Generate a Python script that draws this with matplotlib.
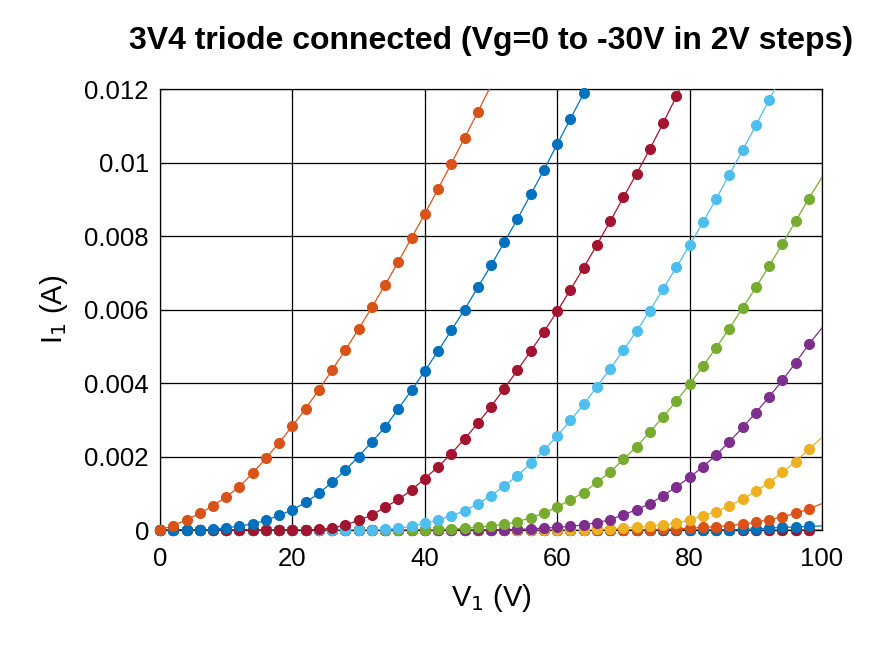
import numpy as np
import matplotlib
matplotlib.use("Agg")
import matplotlib.pyplot as plt

plt.rcParams['font.family'] = ['Liberation Sans', 'DejaVu Sans']

# plate voltage steps (V) and anode current (A), one list per grid voltage
V = np.arange(0, 102, 2)
grid_volts = list(range(0, -32, -2))

i_0 = [0, 0.00012, 0.00028, 0.00045, 0.00066, 0.0009, 0.00118, 0.00155, 0.00195,
       0.00238, 0.00283, 0.0033, 0.00382, 0.00435, 0.0049, 0.00547, 0.00606,
       0.00667, 0.0073, 0.00795, 0.0086, 0.00928, 0.00997, 0.01067, 0.01137, 0.0121]
i_2 = [0, 0, 0, 0, 0.00002, 0.00006, 0.0001, 0.00017, 0.00026, 0.0004, 0.00055,
       0.00075, 0.001, 0.0013, 0.00163, 0.002, 0.0024, 0.0028, 0.0033, 0.0038,
       0.00433, 0.00487, 0.00543, 0.006, 0.0066, 0.0072, 0.00783, 0.00847,
       0.00913, 0.0098, 0.0105, 0.01119, 0.01188, 0.0126]
i_4 = [0] * 12 + [0.00002, 0.00005, 0.00014, 0.00026, 0.00041, 0.00062, 0.00083,
       0.00109, 0.0014, 0.00172, 0.00208, 0.00248, 0.0029, 0.00336, 0.00385,
       0.00435, 0.00487, 0.0054, 0.00595, 0.00654, 0.00714, 0.00776, 0.0084,
       0.00905, 0.0097, 0.01037, 0.01107, 0.0118, 0.0125]
i_6 = [0] * 17 + [0.00002, 0.00005, 0.0001, 0.00018, 0.00027, 0.00039, 0.00052,
       0.00072, 0.00093, 0.0012, 0.00148, 0.00181, 0.00217, 0.00256, 0.00298,
       0.00342, 0.0039, 0.00439, 0.00489, 0.00542, 0.00597, 0.00656, 0.00715,
       0.00775, 0.00837, 0.00901, 0.00967, 0.01033, 0.01101, 0.0117, 0.0124]
i_8 = [0] * 21 + [0.00002, 0.00003, 0.00005, 0.00007, 0.00011, 0.00015, 0.00023,
       0.00033, 0.00046, 0.00063, 0.00082, 0.00102, 0.0013, 0.00158, 0.00192,
       0.00227, 0.00267, 0.00308, 0.00351, 0.00397, 0.00445, 0.00496, 0.00548,
       0.00604, 0.0066, 0.00718, 0.00778, 0.0084, 0.00902, 0.0096]
i_10 = [0] * 26 + [0.00001, 0.00002, 0.00003, 0.00005, 0.00007, 0.0001, 0.00014,
        0.0002, 0.00028, 0.00042, 0.00055, 0.00072, 0.00093, 0.00118, 0.00143,
        0.00172, 0.00204, 0.0024, 0.00279, 0.00319, 0.00362, 0.00407, 0.00455,
        0.00505, 0.0055]
i_12 = [0] * 32 + [0.00001, 0.00002, 0.00003, 0.00005, 0.00007, 0.0001, 0.00014,
        0.00018, 0.00028, 0.00039, 0.0005, 0.00066, 0.00084, 0.00105, 0.00129,
        0.00157, 0.00186, 0.0022, 0.00252]
i_14 = [0] * 37 + [0.00001, 0.00002, 0.00003, 0.00005, 0.00007, 0.00009, 0.00012,
        0.00016, 0.00021, 0.00028, 0.00036, 0.00045, 0.00057, 0.00072]
i_16 = [0] * 44 + [0.00002, 0.00003, 0.00005, 0.00007, 0.00008, 0.0001, 0.00011]
i_zero = [0] * 51
currents = [i_0, i_2, i_4, i_6, i_8, i_10, i_12, i_14, i_16] + [i_zero] * 7

colors = ['#D95319', '#0072BD', '#A2142F', '#4DBEEE', '#77AC30', '#7E2F8E', '#EDB120']

fig = plt.figure(figsize=(8.73, 6.54), dpi=100)
ax = fig.add_axes([0.1833, 0.1896, 0.7583, 0.6743])

n = len(currents)
for k, (vg, cur) in enumerate(zip(grid_volts, currents)):
    c = colors[k % len(colors)]
    x = V[:len(cur)]
    y = np.array(cur)
    z = 2 * (n - k)
    ax.plot(x, y, '-', color=c, lw=0.9, zorder=z)
    m = (x <= 98) & (y <= 0.012)
    ax.plot(x[m], y[m], 'o', color=c, ms=7, clip_on=False, zorder=z + 1)

ax.set_xlim(0, 100)
ax.set_ylim(0, 0.012)
ax.set_xticks(range(0, 101, 20))
ax.set_yticks(np.arange(0, 0.0121, 0.002))
ax.set_yticklabels(['0', '0.002', '0.004', '0.006', '0.008', '0.01', '0.012'])
ax.grid(True, color='black', lw=0.9)
ax.tick_params(direction='in', labelsize=18.5, length=6, top=True, right=True)
ax.tick_params(axis='x', pad=12)
ax.tick_params(axis='y', pad=8)
for s in ax.spines.values():
    s.set_linewidth(0.9)
ax.set_xlabel('V$_1$ (V)', fontsize=21, labelpad=8)
ax.set_ylabel('I$_1$ (A)', fontsize=21, labelpad=10)
ax.set_title('3V4 triode connected (Vg=0 to -30V in 2V steps)', fontsize=23,
             fontweight='bold', pad=29, x=0.5)

fig.savefig('out.png', dpi=100)
